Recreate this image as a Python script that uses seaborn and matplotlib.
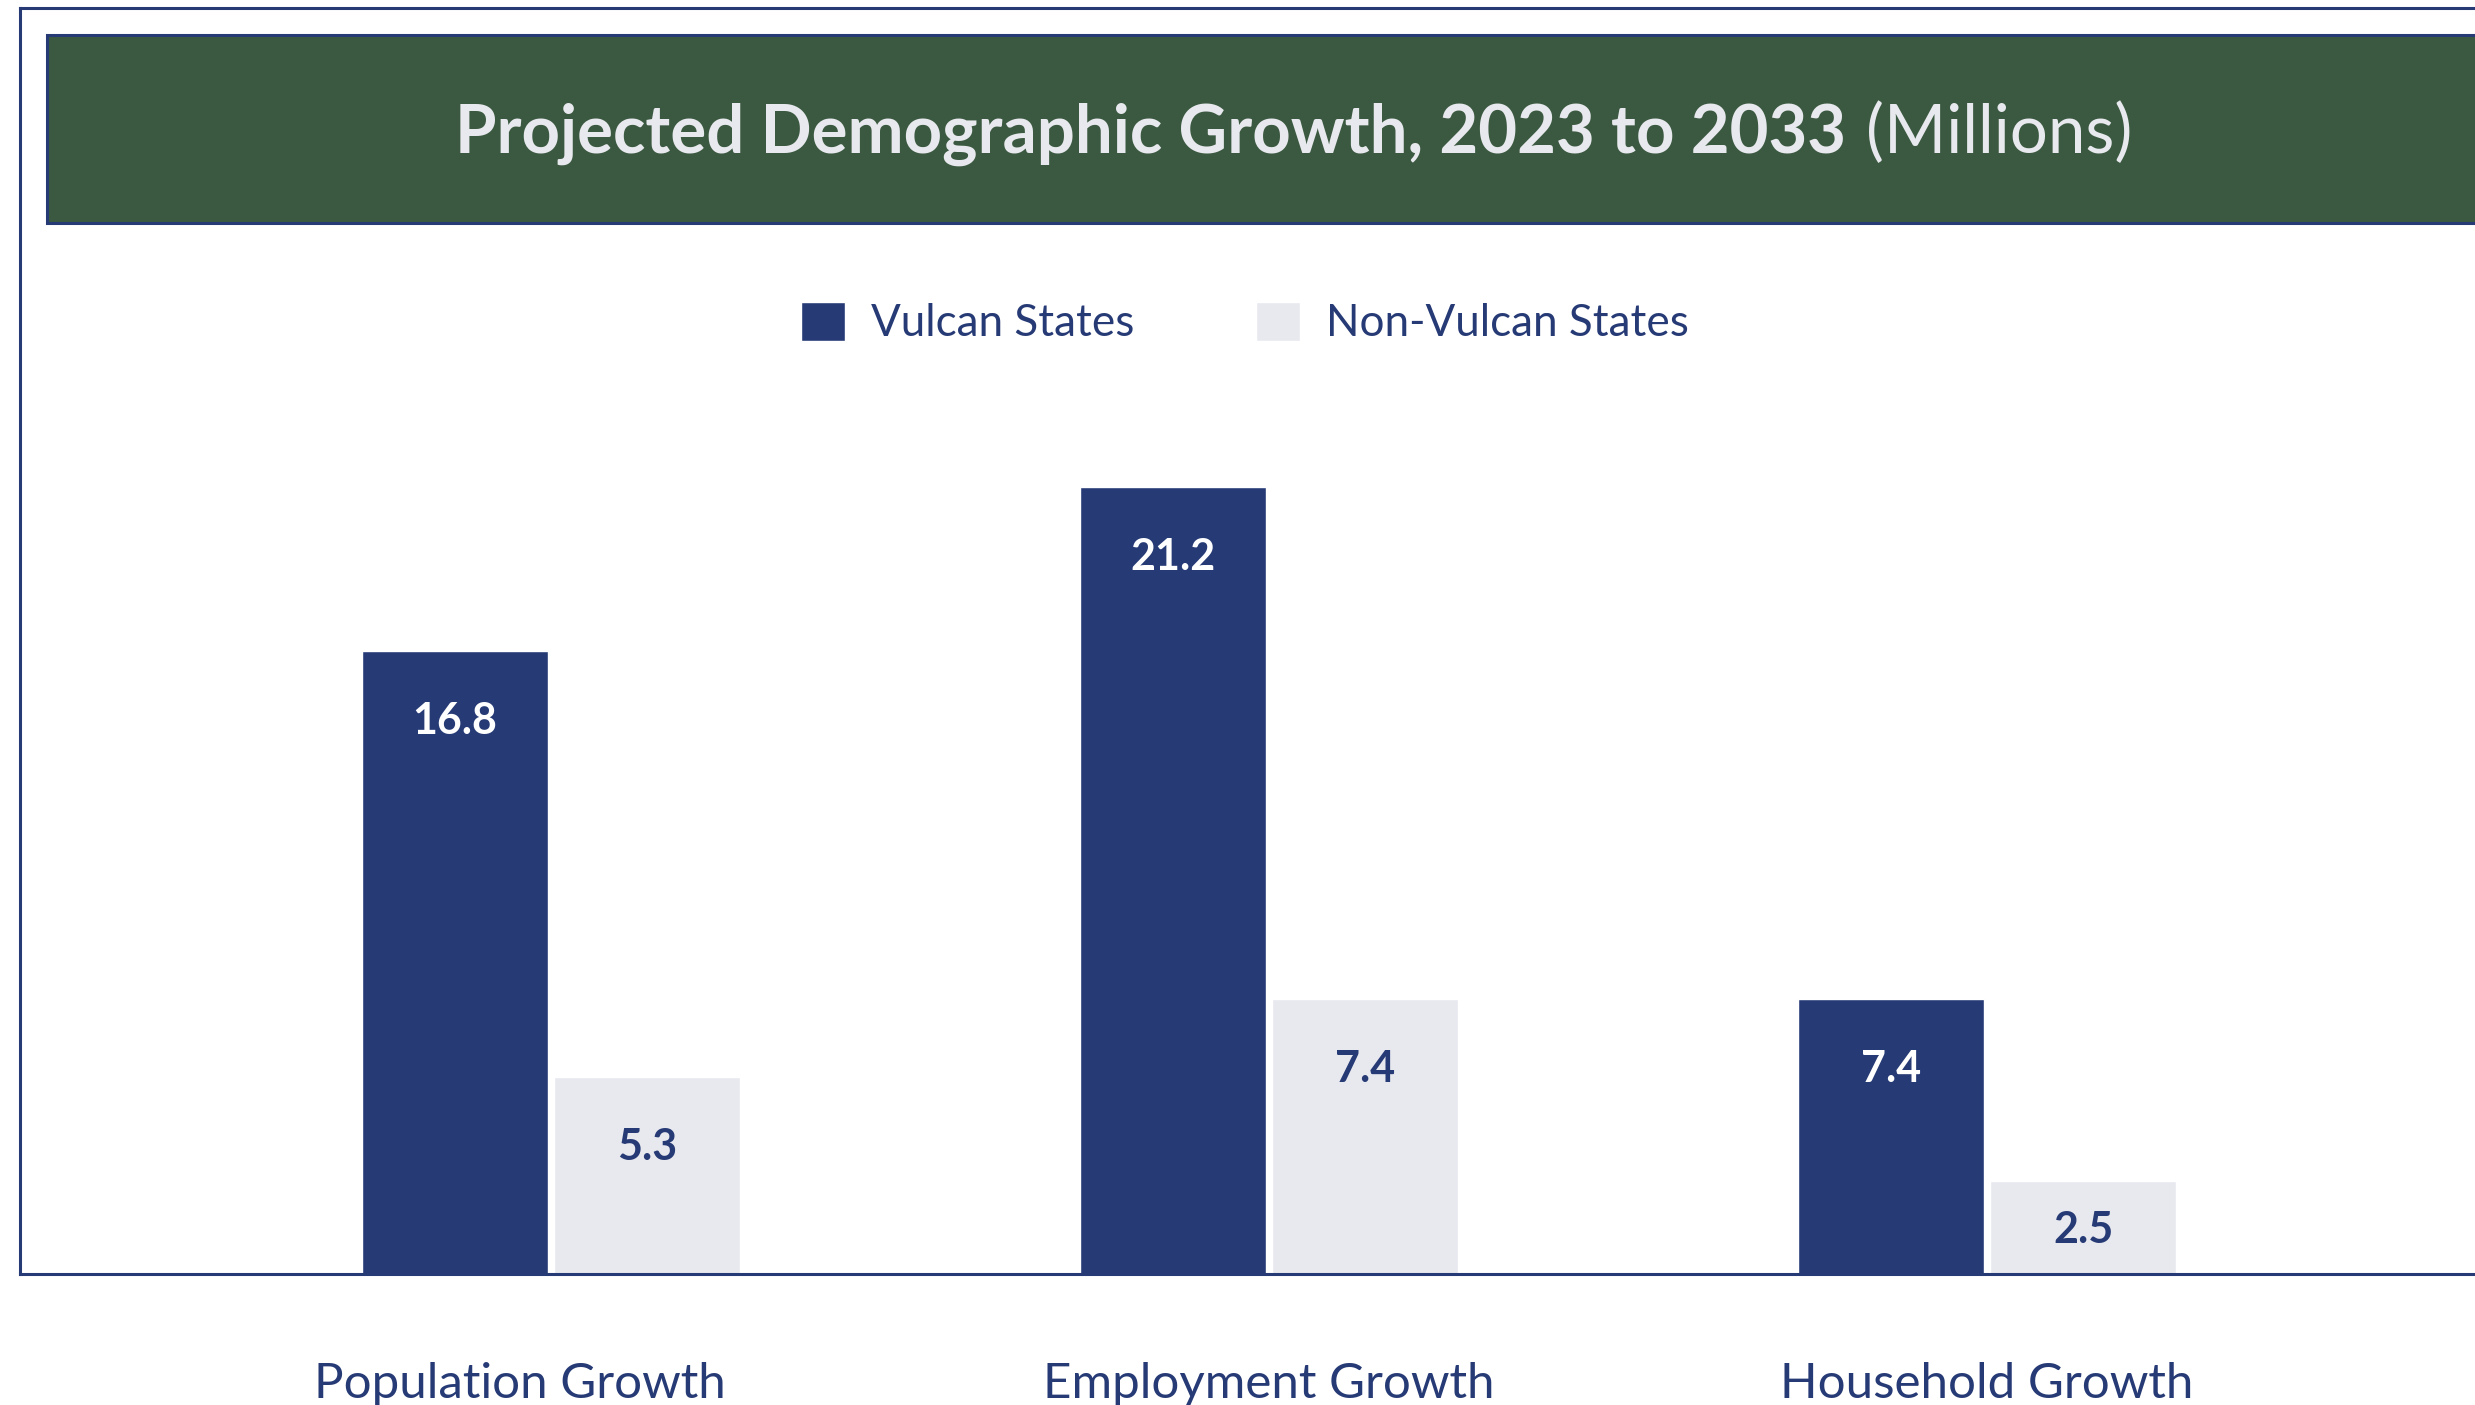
import matplotlib
matplotlib.use("Agg")
import matplotlib.pyplot as plt
import matplotlib.transforms as mtransforms
import seaborn as sns
import pandas as pd
from matplotlib.patches import Rectangle

categories = ["Population Growth", "Employment Growth", "Household Growth"]
series_names = ["Vulcan States", "Non-Vulcan States"]
vulcan = [16.8, 21.2, 7.4]
non_vulcan = [5.3, 7.4, 2.5]

NAVY = "#263A75"
LIGHT = "#E8E9EF"
GREEN = "#3B5940"
FONT = "Lato"

df = pd.DataFrame({
    "category": categories * 2,
    "series": [series_names[0]] * 3 + [series_names[1]] * 3,
    "value": vulcan + non_vulcan,
})

sns.set_theme(style="white")
plt.rcParams["font.family"] = [FONT, "DejaVu Sans"]

W, H = 2475, 1405
fig = plt.figure(figsize=(W / 100, H / 100), dpi=100)
fig.patch.set_facecolor("white")

# axes = outer frame rectangle
left_px, top_px, bottom_px, right_px = 20, 8, 1274, 2530
ax = fig.add_axes([left_px / W, 1 - bottom_px / H,
                   (right_px - left_px) / W, (bottom_px - top_px) / H])

sns.barplot(data=df, x="category", y="value", hue="series",
            palette=[NAVY, LIGHT], width=0.535, gap=0.03,
            saturation=1, ax=ax, legend=True)

px_per_unit = 37.1
ax.set_ylim(0, (bottom_px - top_px) / px_per_unit)
ax.set_xlim(-0.7396, -0.7396 + (right_px - left_px) / 718)
ax.set_xlabel("")
ax.set_ylabel("")
ax.set_yticks([])
ax.tick_params(axis="x", length=0, pad=63, labelsize=35.5, labelcolor=NAVY)
for spine in ["left", "top", "bottom"]:
    ax.spines[spine].set_color(NAVY)
    ax.spines[spine].set_linewidth(2.2)
ax.spines["right"].set_visible(False)

# shift first category label slightly left, as in the reference
lbl0 = ax.get_xticklabels()[0]
lbl0.set_transform(lbl0.get_transform() +
                   mtransforms.ScaledTranslation(-31 / 100, 0, fig.dpi_scale_trans))

# value labels
for ci, cont in enumerate(ax.containers):
    color = "white" if ci == 0 else NAVY
    for bar in cont:
        h = bar.get_height()
        hpx = h * px_per_unit
        off_px = min(70, hpx - 44)
        ax.annotate(f"{h:.1f}", xy=(bar.get_x() + bar.get_width() / 2, h),
                    xytext=(0, -off_px * 0.72), textcoords="offset points",
                    ha="center", va="center", fontsize=31, fontweight="bold",
                    color=color)

# legend
leg = ax.get_legend()
handles = leg.legend_handles
labels = [t.get_text() for t in leg.get_texts()]
leg.remove()
fig.legend(handles, labels, loc="center", bbox_to_anchor=(1245 / W, 1 - 323 / H),
           ncol=2, frameon=False, fontsize=31.7, labelcolor=NAVY,
           handlelength=1.0, handleheight=1.0, handletextpad=0.6,
           columnspacing=2.75)

# title box
fig.patches.append(Rectangle((47 / W, 1 - 223 / H), (2600 - 47) / W, (223 - 35) / H,
                             transform=fig.transFigure, facecolor=GREEN,
                             edgecolor=NAVY, linewidth=2.2, zorder=0))

fig.canvas.draw()
r = fig.canvas.get_renderer()
ty = 1 - 134 / H
t1 = fig.text(0, ty, "Projected Demographic Growth, 2023 to 2033", fontsize=48.3,
              fontweight="bold", color="#E8E9EE", ha="left", va="center")
t2 = fig.text(0, ty, "(Millions)", fontsize=48.3, color="#E8E9EE",
              ha="left", va="center")
w1 = t1.get_window_extent(r).width
w2 = t2.get_window_extent(r).width
gap = 20
start = 1294 - (w1 + gap + w2) / 2
t1.set_x(start / W)
t2.set_x((start + w1 + gap) / W)

fig.savefig("out.png", dpi=100)
